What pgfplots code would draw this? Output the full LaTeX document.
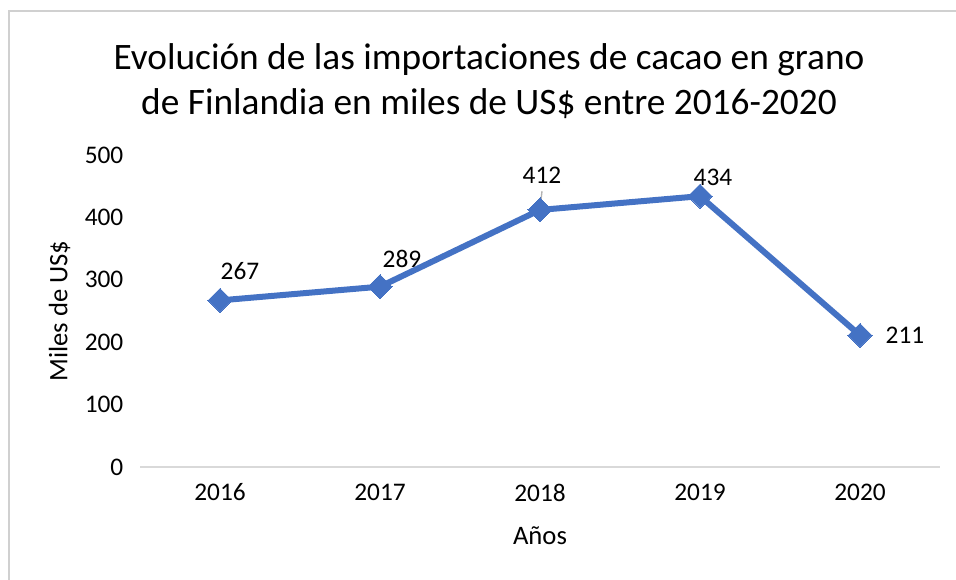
\documentclass[border=0pt]{standalone}
\usepackage{fontspec}
\setmainfont{Carlito}
\usepackage{pgfplots}
\pgfplotsset{compat=1.18}
\definecolor{serie}{HTML}{4472C4}
\definecolor{eje}{HTML}{D9D9D9}
\definecolor{marco}{HTML}{D0D0D0}

\begin{document}
\begin{tikzpicture}[x=0.75pt,y=-0.75pt]
\path[use as bounding box] (0,0) rectangle (956,580);
% marco del grafico (solo izquierda y arriba se ven)
\draw[marco, line width=1.5pt] (9,590) -- (9,11) -- (960,11);
% titulo
\node[align=center, font=\fontsize{28}{33.5}\selectfont] at (489,81)
  {Evolución de las importaciones de cacao en grano\\de Finlandia en miles de US\$ entre 2016-2020};

\begin{axis}[
    at={(105pt,-350.25pt)}, anchor=south west,
    scale only axis,
    width=600pt, height=234pt,
    xmin=-0.5, xmax=4.5,
    ymin=0, ymax=500,
    xtick={0,1,2,3,4},
    xticklabels={2016,2017,2018,2019,2020},
    ytick={0,100,200,300,400,500},
    major tick length=0pt,
    axis x line=bottom,
    axis y line=left,
    x axis line style={draw=eje, line width=1.5pt, -},
    y axis line style={draw=none},
    /pgf/number format/assume math mode=true,
    ticklabel style={font=\fontsize{19}{23}\selectfont},
    yticklabel style={xshift=-9pt},
    xticklabel style={yshift=-9pt},
    yticklabel={\pgfmathprintnumber[assume math mode=true]{\tick}},
    xlabel={Años},
    ylabel={Miles de US\$},
    label style={font=\fontsize{20}{24}\selectfont},
    xlabel style={yshift=-12pt},
    ylabel style={yshift=4pt},
    clip=false,
]
\draw[gray!60, line width=1pt] ([yshift=1pt]axis cs:2,412) -- ++(1.5pt,13pt);
\addplot[serie, line width=4.5pt, mark=square*, mark size=6.4pt,
    mark options={solid, rotate=45, fill=serie, draw=serie, line width=0pt},
    nodes near coords,
    point meta=explicit symbolic,
    visualization depends on={\thisrow{dx}\as\dx},
    visualization depends on={\thisrow{dy}\as\dy},
    nodes near coords style={anchor=center, xshift=\dx pt, yshift=\dy pt,
        text=black, font=\fontsize{19}{23}\selectfont},
] table[meta=lab] {
x y   lab dx    dy
0 267 267 15    21.75
1 289 289 16.5  21
2 412 412 1.5   26
3 434 434 9.75  14.25
4 211 211 33.75 0
};
\end{axis}
\end{tikzpicture}
\end{document}
